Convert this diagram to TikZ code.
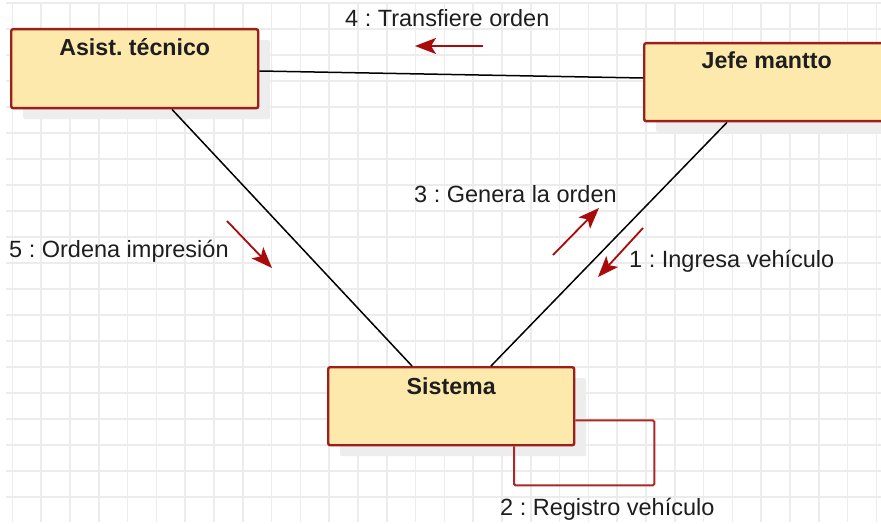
\documentclass[tikz,border=0pt]{standalone}
\usepackage{fontspec}
\setmainfont{Liberation Sans}
\usetikzlibrary{arrows.meta,shadows,calc}
\definecolor{gridc}{RGB}{236,236,236}
\definecolor{boxborder}{RGB}{158,30,26}
\definecolor{boxfill}{RGB}{253,233,172}
\definecolor{msgred}{RGB}{170,10,10}
\definecolor{loopred}{RGB}{172,40,38}
\definecolor{txt}{RGB}{30,30,30}
\frenchspacing
\begin{document}
\begin{tikzpicture}[x=1pt,y=-1pt,
  font=\fontsize{23.5}{27}\selectfont,
  gridline/.style={draw=gridc, line width=1.6pt},
  box/.style={draw=boxborder, fill=boxfill, line width=2.4pt, rounded corners=2pt,
    anchor=north west, inner sep=0pt,
    drop shadow={shadow xshift=12pt, shadow yshift=-11pt, fill=black!7, opacity=1}},
  title/.style={font=\fontsize{23.2}{27}\selectfont\bfseries, text=txt, anchor=base, inner sep=0pt},
  lbl/.style={text=txt, anchor=base west, inner sep=0pt},
  conn/.style={draw=black, line width=1.5pt},
  selfloop/.style={draw=loopred, line width=2pt, rounded corners=1.5pt},
  msg/.style={draw=msgred, line width=1.8pt, -{Stealth[length=21pt,width=16pt,inset=5pt]}}
]
\useasboundingbox (0,0) rectangle (881,524);
\clip (0,0) rectangle (881,524);
\fill[white] (0,0) rectangle (881,524);
% grid
\foreach \k in {0,...,30} \draw[gridline] ({12.3+28.8*\k},3) -- ({12.3+28.8*\k},522);
\foreach \k in {0,...,19} \draw[gridline] (6,{3.3+25.97*\k}) -- (881,{3.3+25.97*\k});
% boxes
\node[box, minimum width=247pt, minimum height=79pt] (asist) at (10,28) {};
\node[box, minimum width=245pt, minimum height=78pt] (jefe) at (643,42) {};
\node[box, minimum width=246pt, minimum height=78pt] (sis) at (327,366) {};
\node[title] (asistT) at (asist.north |- 0,56) {Asist. técnico};
\node[title] (jefeT) at (jefe.north |- 0,69) {Jefe mantto};
\node[title] (sisT) at (sis.north |- 0,394) {Sistema};
% connectors
\draw[conn] ([yshift=-43pt]asist.north east) -- ([yshift=-36pt]jefe.north west);
\draw[conn] ([xshift=162pt]asist.south west) -- ([xshift=85pt]sis.north west);
\draw[conn] ([xshift=84pt]jefe.south west) -- ([xshift=164pt]sis.north west);
\draw[selfloop] ([yshift=26pt]sis.south east) -- ++(79,0) |- ([xshift=187pt,yshift=-39pt]sis.south west) -- ([xshift=187pt]sis.south west);
% message arrows
\coordinate (m4s) at (483,46); \coordinate (m4e) at (415,46);
\coordinate (m5s) at (227,221); \coordinate (m5e) at (272,268);
\coordinate (m3s) at (553,255); \coordinate (m3e) at (599,208);
\coordinate (m1s) at (643,228); \coordinate (m1e) at (598,277);
\draw[msg] (m4s) -- (m4e);
\draw[msg] (m5s) -- (m5e);
\draw[msg] (m3s) -- (m3e);
\draw[msg] (m1s) -- (m1e);
% labels
\node[lbl] (l4) at (345,27) {4 : Transfiere orden};
\node[lbl] (l5) at (9,257) {5 : Ordena impresión};
\node[lbl] (l3) at (414,202) {3 : Genera la orden};
\node[lbl] (l1) at (629,267) {1 : Ingresa vehículo};
\node[lbl] (l2) at (500,515) {2 : Registro vehículo};
\end{tikzpicture}
\end{document}
